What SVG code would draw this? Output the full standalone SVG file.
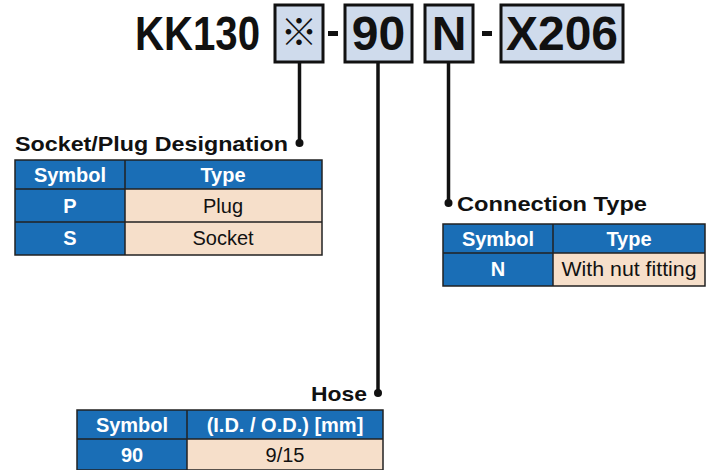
<svg xmlns="http://www.w3.org/2000/svg" width="713" height="470" viewBox="0 0 713 470">
<style>
.big{font-family:"Liberation Sans",Arial,sans-serif;font-weight:bold;font-size:48px;fill:#111}
.box{fill:#cfdbec;stroke:#111;stroke-width:3}
.title{font-family:"Liberation Sans",Arial,sans-serif;font-weight:bold;font-size:21px;fill:#111}
.hdr{fill:#1a6eb6}
.cell{fill:#f6dfca}
.grid{fill:none;stroke:#222;stroke-width:1.5}
.th{font-family:"Liberation Sans",Arial,sans-serif;font-weight:bold;font-size:20px;fill:#fff;text-anchor:middle}
.td{font-family:"Liberation Sans",Arial,sans-serif;font-size:20px;fill:#111;text-anchor:middle}
.ln{stroke:#111;stroke-width:3.5;fill:none}
</style>
<g id="code">
<text class="big" x="135" y="50" textLength="125" lengthAdjust="spacingAndGlyphs">KK130</text>
<rect class="box" x="275" y="5" width="48" height="57"/>
<text x="299" y="46" font-family="'Noto Sans CJK JP','DejaVu Sans',sans-serif" font-size="37" font-weight="bold" text-anchor="middle" fill="#111">※</text>
<rect x="328" y="31" width="10" height="5" fill="#111"/>
<rect class="box" x="345" y="5" width="67" height="57"/>
<text class="big" x="378.5" y="50" text-anchor="middle">90</text>
<rect class="box" x="425" y="5" width="48" height="57"/>
<text class="big" x="449" y="50" text-anchor="middle">N</text>
<rect x="482" y="31" width="10" height="5" fill="#111"/>
<rect class="box" x="501" y="5" width="122" height="57"/>
<text class="big" x="562" y="50" text-anchor="middle">X206</text>
</g>
<g id="connectors">
<path class="ln" d="M299.5 63V143"/>
<circle cx="299.5" cy="143" r="4" fill="#111"/>
<path class="ln" d="M378 63V393"/>
<circle cx="378" cy="393" r="4" fill="#111"/>
<path class="ln" d="M448.5 63V203"/>
<circle cx="448.5" cy="203" r="4" fill="#111"/>
</g>
<g id="socket-plug">
<text class="title" x="15" y="151" textLength="273" lengthAdjust="spacingAndGlyphs">Socket/Plug Designation</text>
<rect class="hdr" x="15" y="160" width="307" height="95"/>
<rect class="cell" x="125" y="189" width="197" height="66"/>
<rect class="grid" x="15" y="160" width="307" height="95"/>
<path class="grid" d="M125 160V255M15 189H322M15 222H322"/>
<text class="th" x="70" y="182">Symbol</text>
<text class="th" x="223" y="182">Type</text>
<text class="th" x="70" y="213">P</text>
<text class="td" x="223" y="213">Plug</text>
<text class="th" x="70" y="245">S</text>
<text class="td" x="223" y="245">Socket</text>
</g>
<g id="connection-type">
<text class="title" x="457" y="211" textLength="190" lengthAdjust="spacingAndGlyphs">Connection Type</text>
<rect class="hdr" x="443" y="224" width="262" height="62"/>
<rect class="cell" x="553" y="253" width="152" height="33"/>
<rect class="grid" x="443" y="224" width="262" height="62"/>
<path class="grid" d="M553 224V286M443 253H705"/>
<text class="th" x="498" y="246">Symbol</text>
<text class="th" x="629" y="246">Type</text>
<text class="th" x="498" y="276">N</text>
<text class="td" x="629" y="276" textLength="135" lengthAdjust="spacingAndGlyphs">With nut fitting</text>
</g>
<g id="hose">
<text class="title" x="367" y="401" text-anchor="end" textLength="56" lengthAdjust="spacingAndGlyphs">Hose</text>
<rect class="hdr" x="77" y="410" width="306" height="60"/>
<rect class="cell" x="187" y="439" width="196" height="31"/>
<rect class="grid" x="77" y="410" width="306" height="60"/>
<path class="grid" d="M187 410V470M77 439H383"/>
<text class="th" x="132" y="432">Symbol</text>
<text class="th" x="285" y="432">(I.D. / O.D.) [mm]</text>
<text class="th" x="132" y="462">90</text>
<text class="td" x="285" y="462">9/15</text>
</g>
</svg>
